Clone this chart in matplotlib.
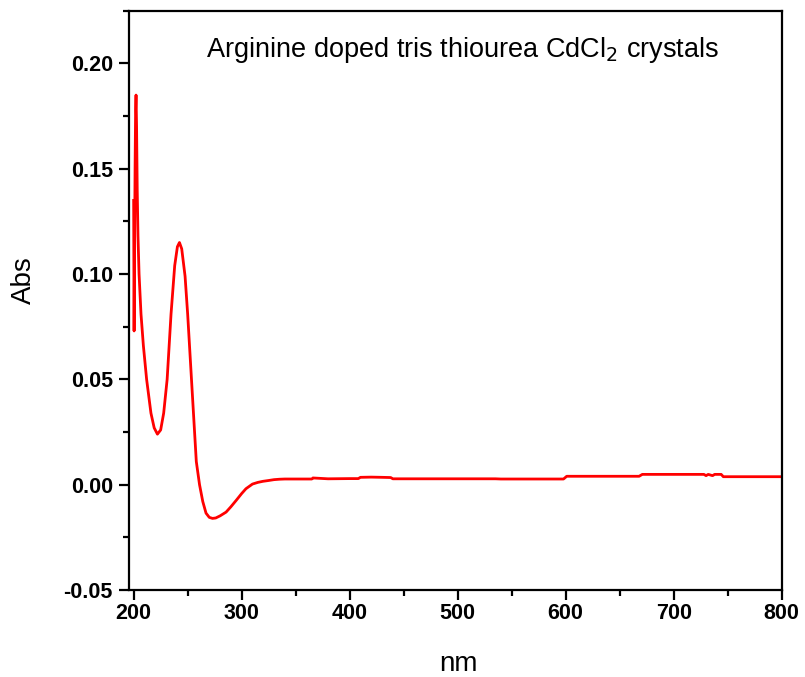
import matplotlib
matplotlib.use("Agg")
import matplotlib.pyplot as plt
from matplotlib.ticker import MultipleLocator

plt.rcParams['font.family'] = ['Liberation Sans', 'DejaVu Sans']

# wavelength (nm) and absorbance
wavelength = [200.0, 200.4, 200.8, 201.3, 201.8, 202.2, 202.7, 203.3, 204.0, 205.0,
              206.8, 209.0, 212.0, 216.0, 219.0, 222.0, 225.0, 227.8, 231.0, 234.6,
              238.0, 240.5, 242.4, 244.5, 247.6, 250.0, 254.0, 258.0, 261.0, 264.0,
              267.0, 270.0, 273.0, 276.0, 280.0, 285.6, 290.0, 295.0, 300.0, 304.0,
              310.0, 315.0, 319.6, 325.0, 330.0, 335.0, 340.0, 350.0, 365.0, 366.0,
              380.0, 400.0, 408.0, 410.0, 420.0, 430.0, 438.0, 440.0, 460.0, 500.0,
              535.0, 540.0, 570.0, 598.0, 601.0, 630.0, 668.0, 671.0, 700.0, 728.0,
              730.0, 732.0, 736.0, 738.0, 740.0, 744.0, 746.0, 770.0, 800.0]
absorbance = [0.135, 0.073, 0.110, 0.150, 0.178, 0.185, 0.170, 0.140, 0.118, 0.100,
              0.081, 0.066, 0.050, 0.034, 0.027, 0.024, 0.026, 0.034, 0.050, 0.081,
              0.104, 0.113, 0.115, 0.112, 0.099, 0.081, 0.046, 0.011, 0.000, -0.008,
              -0.0135, -0.0155, -0.016, -0.0158, -0.0148, -0.0130, -0.0105, -0.0074, -0.0042, -0.0019,
              0.0003, 0.0011, 0.0016, 0.0020, 0.0024, 0.0026, 0.0027, 0.0027, 0.0027, 0.0032,
              0.0028, 0.0029, 0.0029, 0.0035, 0.0036, 0.0035, 0.0034, 0.0028, 0.0028, 0.0028,
              0.0028, 0.0027, 0.0027, 0.0027, 0.0040, 0.0040, 0.0040, 0.0049, 0.0049, 0.0049,
              0.0043, 0.0049, 0.0043, 0.0049, 0.0049, 0.0049, 0.0038, 0.0038, 0.0038]

fig = plt.figure(figsize=(8.05, 6.77), dpi=100)
ax = fig.add_axes([0.160, 0.1285, 0.811, 0.8555])
ax.plot(wavelength, absorbance, color='#ff0000', linewidth=2.0)

ax.set_xlim(195.5, 800)
ax.set_ylim(-0.05, 0.225)
ax.xaxis.set_major_locator(MultipleLocator(100))
ax.xaxis.set_minor_locator(MultipleLocator(50))
ax.yaxis.set_major_locator(MultipleLocator(0.05))
ax.yaxis.set_minor_locator(MultipleLocator(0.025))
ax.set_xticks(range(200, 801, 100))
ax.set_yticks([-0.05, 0.0, 0.05, 0.10, 0.15, 0.20])
ax.set_yticklabels(['-0.05', '0.00', '0.05', '0.10', '0.15', '0.20'])

for s in ax.spines.values():
    s.set_linewidth(1.6)
ax.tick_params(which='major', direction='out', length=7.5, width=1.6, labelsize=15.5, pad=4)
ax.tick_params(axis='x', which='major', pad=1.5)
ax.tick_params(which='minor', direction='out', length=4, width=1.6)
for lab in ax.get_xticklabels() + ax.get_yticklabels():
    lab.set_fontweight('bold')

ax.set_xlabel('nm', fontsize=20)
ax.set_ylabel('Abs', fontsize=20)
ax.xaxis.set_label_coords(0.505, -0.105)
ax.yaxis.set_label_coords(-0.14, 0.535)
ax.text(0.511, 0.933, 'Arginine doped tris thiourea CdCl$_2$ crystals',
        transform=ax.transAxes, ha='center', va='center', fontsize=19.5)

fig.savefig('out.png', dpi=100)
